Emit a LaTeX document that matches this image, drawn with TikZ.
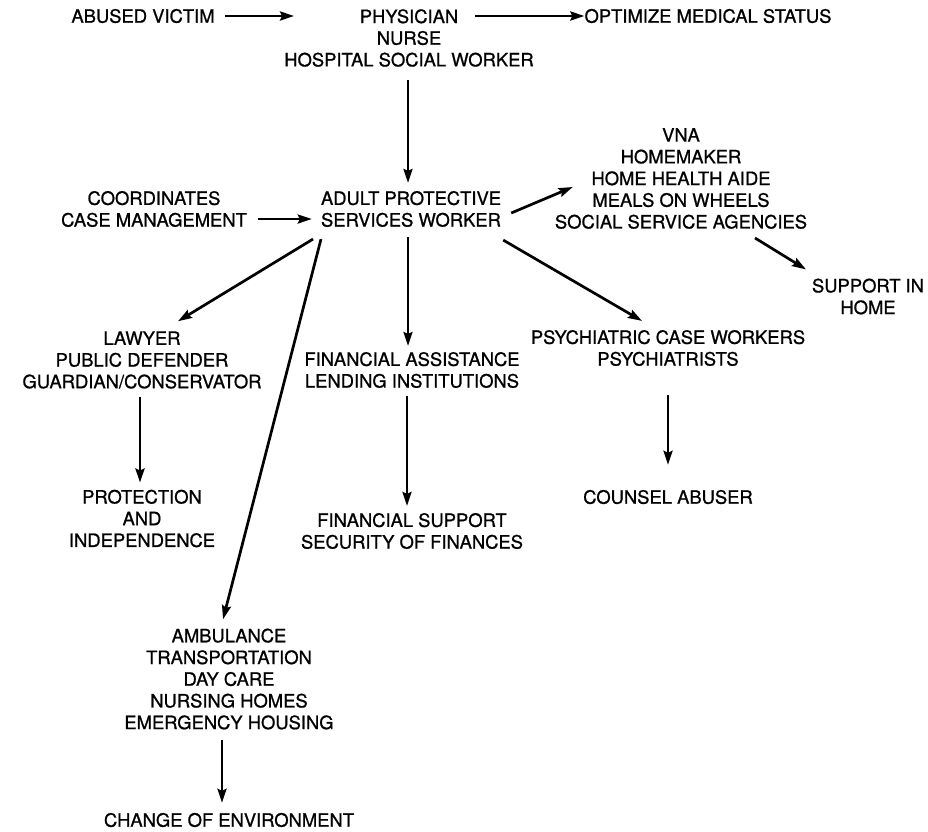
\documentclass[tikz,border=0pt]{standalone}
\usepackage{fontspec}
\setmainfont[FakeBold=0.9]{TeX Gyre Heros}
\usetikzlibrary{arrows.meta,calc}
\begin{document}
\begin{tikzpicture}[x=1pt,y=-1pt,
  lbl/.style={align=center,inner sep=0pt,font=\fontsize{18.4}{21.7}\selectfont},
  arr/.style={line width=2.7pt,-{Stealth[length=14pt,width=9pt,inset=2pt]}}]
\useasboundingbox (0,0) rectangle (928,831);

% nodes
\node[lbl] (victim)  at (143,16)    {ABUSED VICTIM};
\node[lbl] (phys)    at (409,38)    {PHYSICIAN\\NURSE\\HOSPITAL SOCIAL WORKER};
\node[lbl] (opt)     at (708,16)    {OPTIMIZE MEDICAL STATUS};
\node[lbl] (coord)   at (154,209)   {COORDINATES\\CASE MANAGEMENT};
\node[lbl] (apsw)    at (411,209)   {ADULT PROTECTIVE\\SERVICES WORKER};
\node[lbl] (vna)     at (681,178.5) {VNA\\HOMEMAKER\\HOME HEALTH AIDE\\MEALS ON WHEELS\\SOCIAL SERVICE AGENCIES};
\node[lbl] (support) at (868,296.5) {SUPPORT IN\\HOME};
\node[lbl] (lawyer)  at (142,360)   {LAWYER\\PUBLIC DEFENDER\\GUARDIAN/CONSERVATOR};
\node[lbl] (finass)  at (412,370)   {FINANCIAL ASSISTANCE\\LENDING INSTITUTIONS};
\node[lbl] (psych)   at (668,348)   {PSYCHIATRIC CASE WORKERS\\PSYCHIATRISTS};
\node[lbl] (protect) at (142,518.5) {PROTECTION\\AND\\INDEPENDENCE};
\node[lbl] (finsup)  at (412,531)   {FINANCIAL SUPPORT\\SECURITY OF FINANCES};
\node[lbl] (counsel) at (668,497)   {COUNSEL ABUSER};
\node[lbl] (amb)     at (229,679)   {AMBULANCE\\TRANSPORTATION\\DAY CARE\\NURSING HOMES\\EMERGENCY HOUSING};
\node[lbl] (change)  at (229,820)   {CHANGE OF ENVIRONMENT};

% connectors
\draw[arr] ($(victim.east)+(10,0)$) -- ($(phys.west |- victim.east)+(10,0)$);
\draw[arr] ($(phys.center |- opt.west)+(66,0)$) -- (opt.west);
\draw[arr] ($(phys.south)+(-1,13)$) -- ($(apsw.north)+(-3,-8)$);
\draw[arr] ($(coord.east)+(11,10)$) -- ($(apsw.west |- coord.east)+(-9,10)$);
\draw[arr] ($(apsw.east)+(10,4)$) -- ($(vna.west)+(18,8.5)$);
\draw[arr] ($(vna.south)+(74,9)$) -- ($(support.north)+(-62,-9)$);
\draw[arr] ($(apsw.south)+(-98,12)$) -- ($(lawyer.north)+(36,-10)$);
\draw[arr] ($(apsw.south)+(-90,12)$) -- ($(amb.north)+(-6,-9)$);
\draw[arr] ($(apsw.south)+(-3,10)$) -- ($(finass.north)+(-4,-6)$);
\draw[arr] ($(apsw.south east)+(2,13)$) -- ($(psych.north)+(-26,-9)$);
\draw[arr] ($(lawyer.south)+(-2,8)$) -- ($(protect.north)+(-2,-7)$);
\draw[arr] ($(finass.south)+(-5,8)$) -- ($(finsup.north)+(-5,-7)$);
\draw[arr] ($(psych.south)+(0,29)$) -- ($(counsel.north)+(0,-25)$);
\draw[arr] ($(amb.south)+(-7,10)$) -- ($(change.north)+(-7,-10)$);
\end{tikzpicture}
\end{document}
